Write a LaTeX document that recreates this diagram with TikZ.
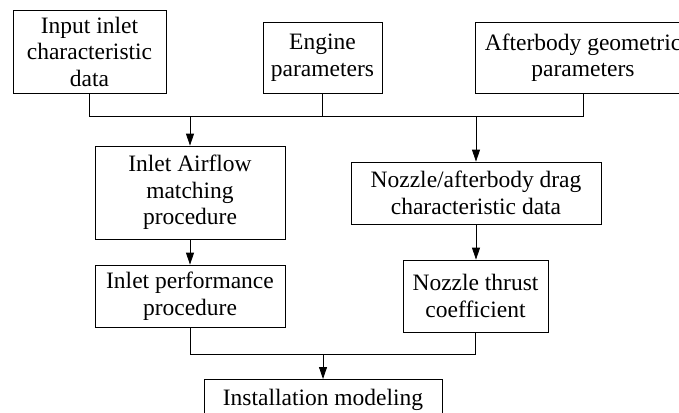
\documentclass[tikz,border=0pt]{standalone}
\usepackage{fontspec}
\setmainfont{Liberation Serif}
\usetikzlibrary{arrows.meta}

\tikzset{
  box/.style={draw, line width=0.8pt, align=center, inner sep=0pt,
    font=\fontsize{23.5}{26.5}\selectfont},
  arr/.style={line width=0.8pt, -{Triangle[length=12pt,width=8pt]}},
  link/.style={line width=0.8pt}
}

\begin{document}
\begin{tikzpicture}[x=1pt,y=-1pt]
    \useasboundingbox (0,0) rectangle (679,412);

    % inputs
    \node[box, minimum width=153, minimum height=83] (input) at (89.5,51.5)
      {Input inlet\\characteristic\\data};
    \node[box, minimum width=119, minimum height=71] (engine) at (322.5,57.5)
      {Engine\\parameters};
    \node[box, minimum width=216, minimum height=71] (after) at (583,57.5)
      {Afterbody geometric\\parameters};

    % procedures
    \node[box, minimum width=190, minimum height=93] (airflow) at (190,192.5)
      {Inlet Airflow\\matching\\procedure};
    \node[box, minimum width=250, minimum height=62] (drag) at (476,193)
      {Nozzle/afterbody drag\\characteristic data};
    \node[box, minimum width=190, minimum height=62] (perf) at (190,296)
      {Inlet performance\\procedure};
    \node[box, minimum width=145, minimum height=72] (thrust) at (475.5,296)
      {Nozzle thrust\\coefficient};
    \node[box, minimum width=238, inner ysep=10pt, anchor=north] (install) at (323,379)
      {Installation modeling\\ \strut};

    \coordinate (bus1) at (0,116);
    \coordinate (bus2) at (0,354);

    % upper bus
    \draw[link] (input.south) |- (bus1 -| after.south) -- (after.south);
    \draw[link] (engine.south) -- (engine.south |- bus1);
    \draw[arr] (airflow.north |- bus1) -- (airflow.north);
    \draw[arr] (drag.north |- bus1) -- (drag.north);

    \draw[arr] (airflow) -- (perf);
    \draw[arr] (drag.south) -- (drag.south |- thrust.north);

    % lower bus
    \draw[link] (perf.south) |- (bus2 -| thrust.south) -- (thrust.south);
    \draw[arr] (install.north |- bus2) -- (install.north);
\end{tikzpicture}
\end{document}
